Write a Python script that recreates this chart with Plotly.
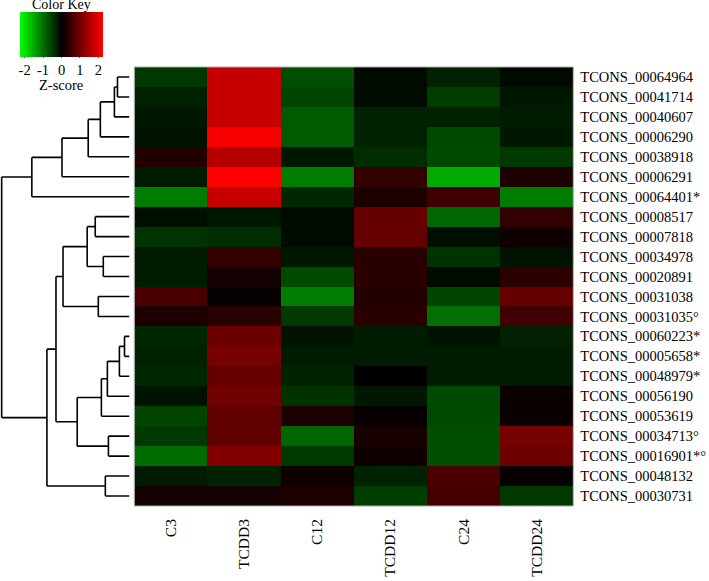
import plotly.graph_objects as go

# ---------------- data ----------------
samples = ["C3", "TCDD3", "C12", "TCDD12", "C24", "TCDD24"]

transcripts = [
    "TCONS_00064964", "TCONS_00041714", "TCONS_00040607", "TCONS_00006290",
    "TCONS_00038918", "TCONS_00006291", "TCONS_00064401*", "TCONS_00008517",
    "TCONS_00007818", "TCONS_00034978", "TCONS_00020891", "TCONS_00031038",
    "TCONS_00031035\u00b0", "TCONS_00060223*", "TCONS_00005658*", "TCONS_00048979*",
    "TCONS_00056190", "TCONS_00053619", "TCONS_00034713\u00b0", "TCONS_00016901*\u00b0",
    "TCONS_00048132", "TCONS_00030731",
]

# z-scores, one list per sample column (rows in display order, top to bottom)
z_C3 = [-0.50, -0.30, -0.20, -0.17, 0.30, -0.25, -1.10, -0.13, -0.45, -0.25, -0.25,
        0.65, 0.25, -0.35, -0.30, -0.35, -0.17, -0.60, -0.50, -0.95, -0.25, 0.17]
z_TCDD3 = [1.75, 1.75, 1.75, 2.20, 1.60, 2.25, 1.75, -0.20, -0.40, 0.45, 0.17,
           0.05, 0.35, 0.95, 1.05, 0.90, 1.00, 0.85, 0.85, 1.15, -0.30, 0.17]
z_C12 = [-0.70, -0.60, -0.80, -0.80, -0.20, -1.10, -0.35, -0.10, -0.10, -0.20, -0.65,
         -1.10, -0.50, -0.17, -0.25, -0.30, -0.45, 0.25, -0.90, -0.50, 0.13, 0.25]
z_TCDD12 = [-0.10, -0.10, -0.30, -0.30, -0.40, 0.45, 0.25, 0.90, 0.90, 0.35, 0.35,
            0.30, 0.35, -0.25, -0.25, 0.00, -0.20, 0.05, 0.20, 0.13, -0.30, -0.55]
z_C24 = [-0.30, -0.55, -0.30, -0.65, -0.65, -1.50, 0.55, -0.90, -0.13, -0.45, -0.10,
         -0.60, -1.00, -0.17, -0.25, -0.25, -0.65, -0.65, -0.70, -0.70, 0.65, 0.60]
z_TCDD24 = [-0.10, -0.20, -0.25, -0.20, -0.50, 0.25, -1.10, 0.45, 0.13, -0.17, 0.40,
            0.90, 0.55, -0.30, -0.25, -0.25, 0.10, 0.10, 1.05, 0.95, 0.05, -0.50]

colorbar_ticks = [-2, -1, 0, 1, 2]

# row dendrogram: merges (child_a, child_b, height); leaves are 0..21 (display order),
# merge k creates node 22 + k
merges = [
    (0, 1, 0.94), (22, 2, 1.18), (23, 3, 2.28), (24, 4, 3.23), (25, 5, 5.28),
    (26, 6, 7.64),
    (7, 8, 2.68), (9, 10, 2.05), (28, 29, 3.31), (11, 12, 2.44), (30, 31, 5.20),
    (13, 14, 0.39), (33, 15, 0.79), (34, 16, 1.73), (35, 17, 2.20), (18, 19, 1.65),
    (36, 37, 4.09), (32, 38, 5.75), (20, 21, 1.89), (39, 40, 6.46),
    (27, 41, 10.0),
]

# ---------------- figure ----------------
W, H = 709, 581


def px(x):   # reference pixel x -> paper fraction
    return x / W


def py(y):   # reference pixel y -> paper fraction (from bottom)
    return 1 - y / H


z = [list(r) for r in zip(z_C3, z_TCDD3, z_C12, z_TCDD12, z_C24, z_TCDD24)]
n = len(transcripts)

colorscale = [[0.0, "rgb(0,255,0)"], [0.5, "rgb(0,0,0)"], [1.0, "rgb(255,0,0)"]]
serif = "Liberation Serif, Times New Roman, serif"

fig = go.Figure()

fig.add_trace(go.Heatmap(
    z=z, x=samples, y=list(range(n)),
    colorscale=colorscale, zmin=-2.25, zmax=2.25,
    xgap=0, ygap=0, hoverinfo="skip",
    colorbar=dict(
        orientation="h",
        x=px(20), xanchor="left", xref="container",
        y=py(12), yanchor="top", yref="container",
        lenmode="pixels", len=83, thickness=45,
        xpad=0, ypad=0, outlinewidth=0,
        tickvals=colorbar_ticks, ticktext=[str(t) for t in colorbar_ticks],
        ticks="outside", ticklen=1, tickcolor="#555",
        tickfont=dict(family=serif, size=14.5, color="black"),
    ),
))

# dendrogram segments
ypos = {i: float(i) for i in range(n)}
hgt = {i: 0.0 for i in range(n)}
dx, dy = [], []
for k, (a, b, h) in enumerate(merges):
    node = n + k
    for c in (a, b):
        dx += [hgt[c], h, None]
        dy += [ypos[c], ypos[c], None]
    dx += [h, h, None]
    dy += [ypos[a], ypos[b], None]
    ypos[node] = (ypos[a] + ypos[b]) / 2
    hgt[node] = h

fig.add_trace(go.Scatter(
    x=dx, y=dy, mode="lines", xaxis="x2", yaxis="y",
    line=dict(color="black", width=1.6), hoverinfo="skip", showlegend=False,
))

fig.update_layout(
    width=W, height=H,
    margin=dict(l=0, r=0, t=0, b=0, autoexpand=False),
    paper_bgcolor="white", plot_bgcolor="white",
    showlegend=False,
    xaxis=dict(
        domain=[px(134.3), px(573.3)], anchor="y", side="bottom", automargin=False,
        tickangle=-90, ticks="", showgrid=False, zeroline=False,
        tickfont=dict(family=serif, size=15.5, color="black"),
        ticklabelstandoff=9,
    ),
    yaxis=dict(
        domain=[py(506), py(67)], anchor="x", side="right", automargin=False,
        range=[n - 0.5, -0.5],
        tickvals=list(range(n)), ticktext=transcripts,
        ticks="", showgrid=False, zeroline=False,
        tickfont=dict(family=serif, size=14.5, color="black"),
        ticklabelstandoff=6,
    ),
    xaxis2=dict(
        domain=[0, px(129.5)], anchor="y", automargin=False,
        range=[10.13, 0],
        visible=False, showgrid=False, zeroline=False,
    ),
    annotations=[
        dict(text="Color Key", x=px(61), y=py(4.5), xref="paper", yref="paper",
             showarrow=False, font=dict(family=serif, size=14, color="black"),
             xanchor="center", yanchor="middle"),
        dict(text="Z-score", x=px(61), y=py(85), xref="paper", yref="paper",
             showarrow=False, font=dict(family=serif, size=14.5, color="black"),
             xanchor="center", yanchor="middle"),
    ],
    shapes=[
        dict(type="rect", xref="x domain", yref="y domain", x0=0, x1=1, y0=0, y1=1,
             line=dict(color="#aaaaaa", width=1), fillcolor="rgba(0,0,0,0)"),
    ],
)

fig.write_html(
    "out.html",
    config={"displayModeBar": False},
    post_script="document.body.style.margin='0';document.body.style.overflow='hidden';",
)
